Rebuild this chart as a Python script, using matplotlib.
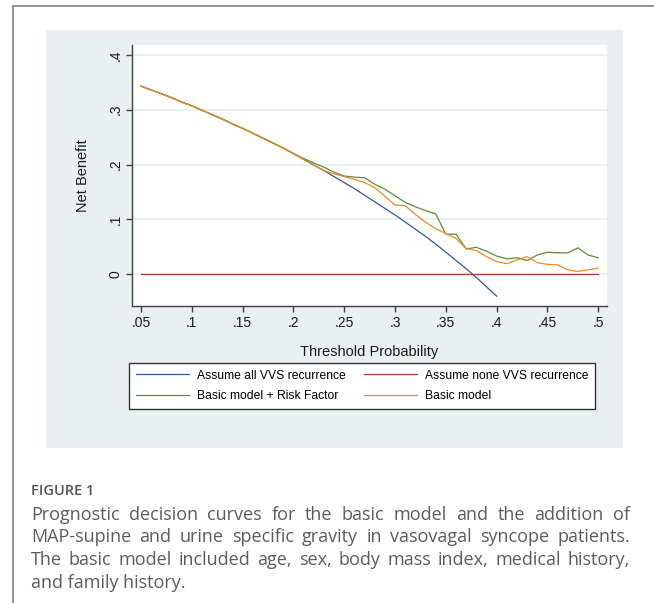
import matplotlib
matplotlib.use("Agg")
import matplotlib.pyplot as plt
from matplotlib.patches import Rectangle
from matplotlib.lines import Line2D

# ---- data ----
thresholds = [0.05, 0.06, 0.07, 0.08, 0.09, 0.10, 0.11, 0.12, 0.13, 0.14,
              0.15, 0.16, 0.17, 0.18, 0.19, 0.20, 0.21, 0.22, 0.23, 0.24,
              0.25, 0.26, 0.27, 0.28, 0.29, 0.30, 0.31, 0.32, 0.33, 0.34,
              0.35, 0.36, 0.37, 0.38, 0.39, 0.40, 0.41, 0.42, 0.43, 0.44,
              0.45, 0.46, 0.47, 0.48, 0.49, 0.50]

# treat all (stops at .4)
all_nb = [0.343, 0.336, 0.329, 0.322, 0.314, 0.307, 0.299, 0.291, 0.283, 0.274,
          0.266, 0.257, 0.248, 0.239, 0.230, 0.220, 0.210, 0.199, 0.189, 0.178,
          0.167, 0.156, 0.144, 0.132, 0.120, 0.108, 0.095, 0.082, 0.069, 0.055,
          0.040, 0.025, 0.010, -0.006, -0.023, -0.040]

# treat none
none_x = [0.05, 0.50]
none_nb = [0.0, 0.0]

risk_nb = [0.343, 0.336, 0.329, 0.322, 0.314, 0.307, 0.299, 0.291, 0.283, 0.274,
           0.266, 0.257, 0.248, 0.239, 0.230, 0.220, 0.211, 0.203, 0.195, 0.186,
           0.179, 0.177, 0.176, 0.164, 0.155, 0.143, 0.131, 0.123, 0.116, 0.110,
           0.073, 0.073, 0.046, 0.049, 0.042, 0.033, 0.028, 0.030, 0.025, 0.035,
           0.040, 0.039, 0.039, 0.048, 0.035, 0.030]

basic_nb = [0.343, 0.336, 0.329, 0.322, 0.314, 0.307, 0.299, 0.291, 0.283, 0.274,
            0.266, 0.257, 0.248, 0.239, 0.230, 0.220, 0.209, 0.199, 0.189, 0.183,
            0.178, 0.173, 0.167, 0.158, 0.142, 0.126, 0.125, 0.109, 0.095, 0.083,
            0.074, 0.065, 0.047, 0.043, 0.032, 0.023, 0.019, 0.026, 0.032, 0.021,
            0.018, 0.017, 0.008, 0.005, 0.008, 0.011]

x_ticks = [0.05, 0.10, 0.15, 0.20, 0.25, 0.30, 0.35, 0.40, 0.45, 0.50]
x_tick_labels = ['.05', '.1', '.15', '.2', '.25', '.3', '.35', '.4', '.45', '.5']
y_ticks = [0.0, 0.1, 0.2, 0.3, 0.4]
y_tick_labels = ['0', '.1', '.2', '.3', '.4']

caption_title = "FIGURE 1"
caption_lines = [
    "Prognostic decision curves for the basic model and the addition of",
    "MAP-supine and urine specific gravity in vasovagal syncope patients.",
    "The basic model included age, sex, body mass index, medical history,",
    "and family history.",
]

W, H = 654, 603
plt.rcParams['font.family'] = ['Liberation Sans', 'DejaVu Sans']

fig = plt.figure(figsize=(W / 100, H / 100), dpi=100)
fig.patch.set_facecolor('white')

# outer frame of the page (top and left edges only)
fig.add_artist(Line2D([13 / W, 1], [1 - 5.7 / H, 1 - 5.7 / H], transform=fig.transFigure,
                      color='#8c8c8c', lw=1.3))
fig.add_artist(Line2D([13 / W, 13 / W], [0, 1 - 5.7 / H], transform=fig.transFigure,
                      color='#8c8c8c', lw=1.3))

# graph region (light bluish gray, Stata style)
fig.add_artist(Rectangle((46 / W, 1 - 448 / H), 576.7 / W, 418 / H, transform=fig.transFigure,
                         facecolor='#e9f0f2', edgecolor='none', zorder=-1))

ax = fig.add_axes([132 / W, 1 - 306 / H, 475 / W, 261 / H])
ax.set_facecolor('white')

ax.plot(thresholds[:len(all_nb)], all_nb, color='#34598a', lw=0.9, label='Assume all VVS recurrence')
ax.plot(none_x, none_nb, color='#a83a40', lw=0.9, label='Assume none VVS recurrence')
ax.plot(thresholds, risk_nb, color='#5f8a3a', lw=0.9, label='Basic model + Risk Factor')
ax.plot(thresholds, basic_nb, color='#f08a22', lw=0.9, label='Basic model')

ax.set_xlim(0.0411, 0.5086)
ax.set_ylim(-0.058, 0.418)

ax.set_xticks(x_ticks)
ax.set_xticklabels(x_tick_labels)
ax.set_yticks(y_ticks)
ax.set_yticklabels(y_tick_labels, rotation=90, va='center')

ax.yaxis.grid(True, color='#e8f0f2', lw=1.4)
ax.set_axisbelow(True)

for side in ['top', 'right']:
    ax.spines[side].set_visible(False)
for side in ['left', 'bottom']:
    ax.spines[side].set_color('#404040')
    ax.spines[side].set_linewidth(1.0)
ax.tick_params(colors='#404040', length=4, width=1.0, labelsize=10, pad=3,
               labelcolor='#1a1a1a')

ax.set_ylabel('Net Benefit', fontsize=10.5, va='center', color='#1a1a1a')
ax.yaxis.set_label_coords((83 - 132) / 475, 0.5)
ax.set_xlabel('Threshold Probability', fontsize=10.5, va='center', color='#1a1a1a')
ax.xaxis.set_label_coords(0.5, -(351.7 - 306) / 261)

# legend: two columns, first column all / risk, second none / basic
h = ax.get_lines()
order = [h[0], h[2], h[1], h[3]]
leg = ax.legend(order, [l.get_label() for l in order],
                ncol=2, loc='upper left', borderaxespad=0,
                bbox_to_anchor=(129 / W, 1 - 363 / H),
                bbox_transform=fig.transFigure, fontsize=8.7, handlelength=4.4,
                handletextpad=0.7, columnspacing=1.45, labelspacing=0.72,
                borderpad=0.55, fancybox=False, framealpha=1, edgecolor='#333333')
leg.get_frame().set_linewidth(1.0)

# caption under the figure
fig.text(31 / W, 1 - 495 / H, caption_title, fontsize=10.5, fontweight='semibold',
         color='#555555', family='Open Sans', va='baseline')

fig.canvas.draw()
renderer = fig.canvas.get_renderer()
x_left, x_right = 31, 630
baselines = [520, 542.5, 565, 587.5]
cap_kw = dict(fontsize=13, color='#5c5c5c', family='Open Sans', va='baseline')
for i, line in enumerate(caption_lines):
    y = 1 - baselines[i] / H
    if i == len(caption_lines) - 1:
        fig.text(x_left / W, y, line, **cap_kw)
        continue
    words = line.split()
    texts = [fig.text(0, y, w, **cap_kw) for w in words]
    widths = [t.get_window_extent(renderer).width for t in texts]
    gap = (x_right - x_left - sum(widths)) / (len(words) - 1)
    x = x_left
    for t, w in zip(texts, widths):
        t.set_x(x / W)
        x += w + gap

fig.savefig('out.png', dpi=100)
